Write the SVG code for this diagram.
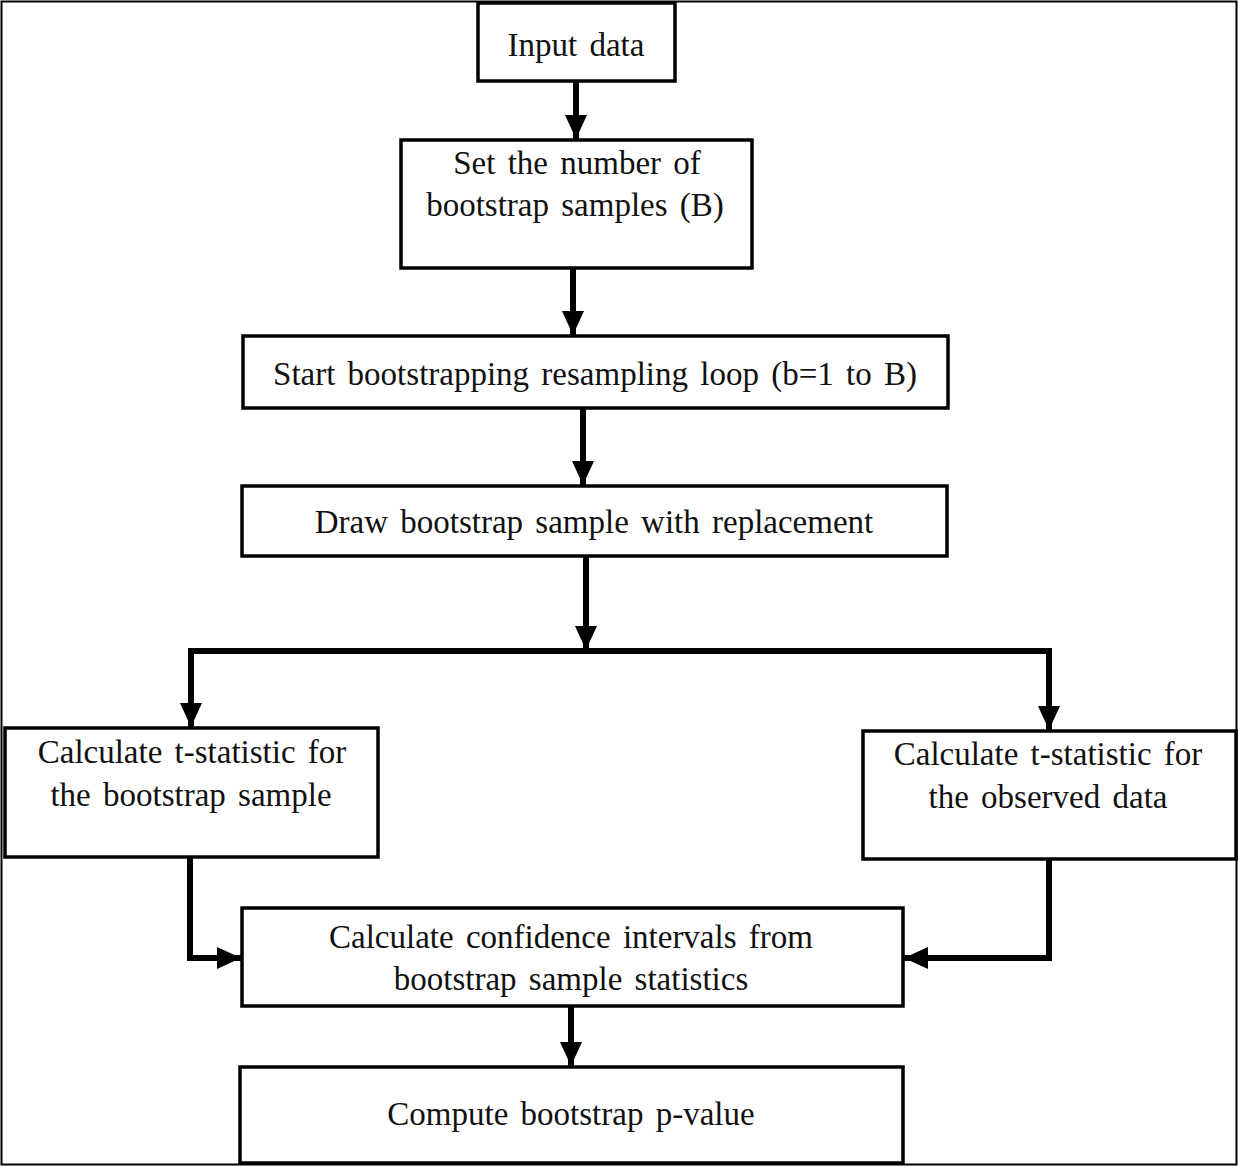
<svg xmlns="http://www.w3.org/2000/svg" width="1239" height="1167" viewBox="0 0 1239 1167">
<defs>
<marker id="ah" markerUnits="userSpaceOnUse" markerWidth="24" markerHeight="22" viewBox="0 0 24 22" refX="24" refY="11" orient="auto">
<path d="M0,0 L24,11 L0,22 Z" fill="#000"/>
</marker>
</defs>
<style>
.box{fill:#fff;stroke:#000;stroke-width:3.5}
.t{font-family:"Liberation Serif","Times New Roman","DejaVu Serif",serif;font-size:33px;fill:#111;text-anchor:middle;word-spacing:4px}
.c{fill:none;stroke:#000;stroke-width:6;stroke-linejoin:miter}
</style>
<rect x="0" y="0" width="1239" height="1167" fill="#fff"/>
<rect x="1.5" y="1.5" width="1235" height="1163" fill="none" stroke="#000" stroke-width="2"/>
<g id="connectors">
<path class="c" d="M576,81 V139" marker-end="url(#ah)"/>
<path class="c" d="M573,268 V335" marker-end="url(#ah)"/>
<path class="c" d="M583,408 V485" marker-end="url(#ah)"/>
<path class="c" d="M586,556 V650" marker-end="url(#ah)"/>
<path class="c" d="M191,651 H1049"/>
<path class="c" d="M1049,648 V730" marker-end="url(#ah)"/>
<path class="c" d="M191,648 V727" marker-end="url(#ah)"/>
<path class="c" d="M190,857 V958 H241" marker-end="url(#ah)"/>
<path class="c" d="M1049,859 V958 H904" marker-end="url(#ah)"/>
<path class="c" d="M571,1006 V1066" marker-end="url(#ah)"/>
</g>
<g id="n1"><rect class="box" x="478" y="3" width="197" height="78"/><text class="t" x="576" y="56">Input data</text></g>
<g id="n2"><rect class="box" x="401" y="140" width="351" height="128"/><text class="t" x="577" y="174">Set the number of</text><text class="t" x="575" y="216">bootstrap samples (B)</text></g>
<g id="n3"><rect class="box" x="243" y="336" width="705" height="72"/><text class="t" x="595" y="385">Start bootstrapping resampling loop (b=1 to B)</text></g>
<g id="n4"><rect class="box" x="242" y="486" width="705" height="70"/><text class="t" x="594" y="533">Draw bootstrap sample with replacement</text></g>
<g id="n5"><rect class="box" x="5" y="728" width="373" height="129"/><text class="t" x="192" y="763">Calculate t-statistic for</text><text class="t" x="191" y="806">the bootstrap sample</text></g>
<g id="n6"><rect class="box" x="863" y="731" width="373" height="128"/><text class="t" x="1048" y="765">Calculate t-statistic for</text><text class="t" x="1048" y="808">the observed data</text></g>
<g id="n7"><rect class="box" x="242" y="908" width="661" height="98"/><text class="t" x="571" y="948">Calculate confidence intervals from</text><text class="t" x="571" y="990">bootstrap sample statistics</text></g>
<g id="n8"><rect class="box" x="240" y="1067" width="663" height="96"/><text class="t" x="571" y="1125">Compute bootstrap p-value</text></g>
</svg>
